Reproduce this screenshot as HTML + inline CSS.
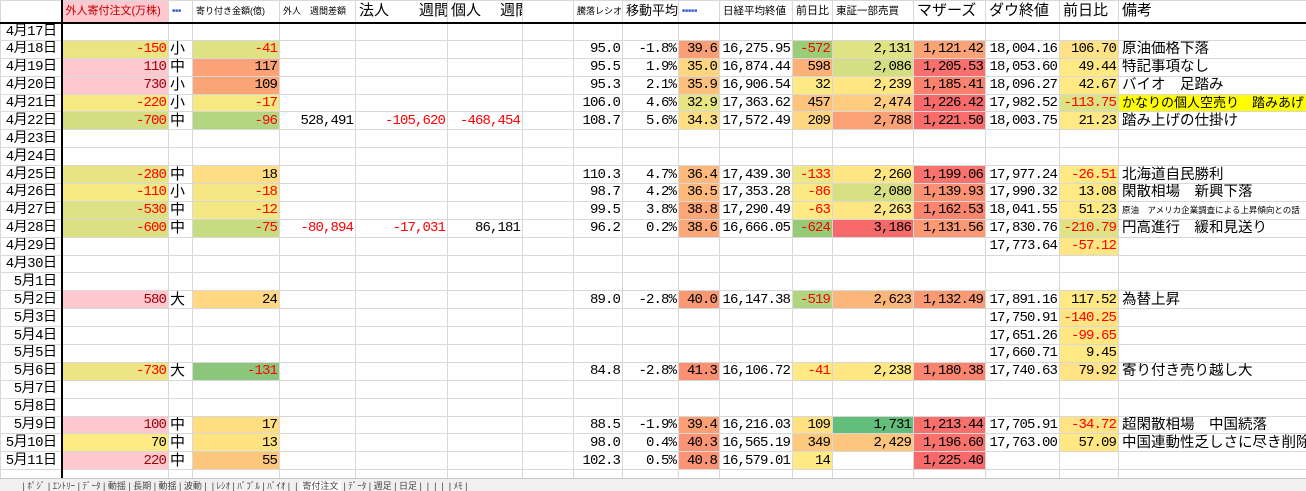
<!DOCTYPE html>
<html><head><meta charset="utf-8">
<style>
html,body{margin:0;padding:0;background:#fff;width:1306px;height:490px;overflow:hidden;}
table{border-collapse:collapse;table-layout:fixed;position:absolute;left:0;top:0;width:1306px;}
td{border:1px solid #d8d8d8;padding:0 2px 0 1px;height:17.9px;white-space:nowrap;overflow:hidden;text-align:right;font-family:"Liberation Mono","Noto Sans CJK JP",monospace;font-size:14px;letter-spacing:-0.9px;line-height:16px;color:#000;box-sizing:border-box;}
tr.h td{height:22px;font-family:"Liberation Sans","Noto Sans CJK JP",sans-serif;text-align:left;border-bottom:2px solid #000;font-size:10px;padding-left:3px;letter-spacing:0;}
td.d{font-family:"Liberation Mono","Noto Sans CJK JP",monospace;font-size:14px;border-right:2px solid #000;text-align:right;padding-right:4px;letter-spacing:-0.5px;}
td.c{text-align:left;font-family:"Liberation Sans","Noto Sans CJK JP",sans-serif;font-size:15px;padding-left:1px;letter-spacing:0;}
td.t{text-align:left;font-family:"Liberation Sans","Noto Sans CJK JP",sans-serif;font-size:14.5px;padding-left:3px;letter-spacing:0;}
.r{color:#ff0000}.dr{color:#9c0006}
.pk{background:#ffc7ce}
#tabs{position:absolute;left:0;top:478px;width:1306px;height:12px;background:#f0f0f0;border-top:1px solid #c8c8c8;font:9px "Liberation Sans","Noto Sans CJK JP",sans-serif;color:#444;white-space:nowrap;overflow:hidden;}
</style></head><body>
<table>
<colgroup>
<col style="width:61px"><col style="width:107px"><col style="width:24px"><col style="width:87px"><col style="width:76px"><col style="width:92px"><col style="width:75px"><col style="width:51px"><col style="width:49px"><col style="width:56px"><col style="width:41px"><col style="width:73px"><col style="width:40px"><col style="width:81px"><col style="width:72px"><col style="width:74px"><col style="width:59px"><col style="width:188px">
</colgroup>
<tr class="h">
<td style="border-right:2px solid #000"></td>
<td style="background:#ffc7ce;color:#c00000;font-size:11px">外人寄付注文(万株)</td>
<td style="color:#3355cc;font-size:5px">■■■</td>
<td style="font-size:9px">寄り付き金額(億)</td>
<td style="font-size:9px">外人　週間差額</td>
<td style="font-size:15px">法人　　週間</td>
<td style="font-size:15px">個人　 週間</td>
<td></td>
<td style="font-size:9px">騰落レシオ</td>
<td style="font-size:13px">移動平均</td>
<td style="font-size:5px;color:#3355cc">■■■■■</td>
<td style="font-size:10.5px">日経平均終値</td>
<td style="font-size:11px">前日比</td>
<td style="font-size:10.5px">東証一部売買</td>
<td style="font-size:15px">マザーズ</td>
<td style="font-size:15px">ダウ終値</td>
<td style="font-size:15px">前日比</td>
<td style="font-size:15px">備考</td>
</tr>
<tr><td class="d">4月17日</td><td></td><td></td><td></td><td></td><td></td><td></td><td></td><td></td><td></td><td></td><td></td><td></td><td></td><td></td><td></td><td></td><td></td></tr>
<tr><td class="d">4月18日</td><td class="r" style="background:#ebe483">-150</td><td class="c">小</td><td class="r" style="background:#dfe283">-41</td><td></td><td></td><td></td><td></td><td>95.0</td><td>-1.8%</td><td style="background:#fa9e75">39.6</td><td>16,275.95</td><td class="r" style="background:#9bcc78">-572</td><td style="background:#e0e383">2,131</td><td style="background:#fba276">1,121.42</td><td>18,004.16</td><td style="background:#ffe287">106.70</td><td class="t">原油価格下落</td></tr>
<tr><td class="d">4月19日</td><td class="dr pk">110</td><td class="c">中</td><td style="background:#fba276">117</td><td></td><td></td><td></td><td></td><td>95.5</td><td>1.9%</td><td style="background:#fed680">35.0</td><td>16,874.44</td><td style="background:#fcb178">598</td><td style="background:#d3df82">2,086</td><td style="background:#f8706d">1,205.53</td><td>18,053.60</td><td style="background:#ffe984">49.44</td><td class="t">特記事項なし</td></tr>
<tr><td class="d">4月20日</td><td class="dr pk">730</td><td class="c">小</td><td style="background:#fba576">109</td><td></td><td></td><td></td><td></td><td>95.3</td><td>2.1%</td><td style="background:#fdc07c">35.9</td><td>16,906.54</td><td style="background:#ffe984">32</td><td style="background:#fee783">2,239</td><td style="background:#f9826f">1,185.41</td><td>18,096.27</td><td style="background:#ffe984">42.67</td><td class="t">バイオ　足踏み</td></tr>
<tr><td class="d">4月21日</td><td class="r" style="background:#f6e984">-220</td><td class="c">小</td><td class="r" style="background:#f6e984">-17</td><td></td><td></td><td></td><td></td><td>106.0</td><td>4.6%</td><td style="background:#e6e483">32.9</td><td>17,363.62</td><td style="background:#fdc37d">457</td><td style="background:#fdcc7e">2,474</td><td style="background:#f8696b">1,226.42</td><td>17,982.52</td><td class="r" style="background:#dde282">-113.75</td><td class="t" style="background:#ffff00;font-size:13px">かなりの個人空売り　踏みあげ</td></tr>
<tr><td class="d">4月22日</td><td class="r" style="background:#d3de82">-700</td><td class="c">中</td><td class="r" style="background:#b5d680">-96</td><td>528,491</td><td class="r">-105,620</td><td class="r">-468,454</td><td></td><td>108.7</td><td>5.6%</td><td style="background:#fede82">34.3</td><td>17,572.49</td><td style="background:#fed680">209</td><td style="background:#fba176">2,788</td><td style="background:#f86d6c">1,221.50</td><td>18,003.75</td><td style="background:#ffe984">21.23</td><td class="t">踏み上げの仕掛け</td></tr>
<tr><td class="d">4月23日</td><td></td><td></td><td></td><td></td><td></td><td></td><td></td><td></td><td></td><td></td><td></td><td></td><td></td><td></td><td></td><td></td><td></td></tr>
<tr><td class="d">4月24日</td><td></td><td></td><td></td><td></td><td></td><td></td><td></td><td></td><td></td><td></td><td></td><td></td><td></td><td></td><td></td><td></td><td></td></tr>
<tr><td class="d">4月25日</td><td class="r" style="background:#e8e483">-280</td><td class="c">中</td><td style="background:#ffdd82">18</td><td></td><td></td><td></td><td></td><td>110.3</td><td>4.7%</td><td style="background:#fdb97b">36.4</td><td>17,439.30</td><td class="r" style="background:#f0e784">-133</td><td style="background:#fee683">2,260</td><td style="background:#f8736d">1,199.06</td><td>17,977.24</td><td class="r" style="background:#ffe984">-26.51</td><td class="t">北海道自民勝利</td></tr>
<tr><td class="d">4月26日</td><td class="r" style="background:#f5e984">-110</td><td class="c">小</td><td class="r" style="background:#f5e784">-18</td><td></td><td></td><td></td><td></td><td>98.7</td><td>4.2%</td><td style="background:#fdb87a">36.5</td><td>17,353.28</td><td class="r" style="background:#fce984">-86</td><td style="background:#d6e082">2,080</td><td style="background:#fa9172">1,139.93</td><td>17,990.32</td><td style="background:#ffe984">13.08</td><td class="t">閑散相場　新興下落</td></tr>
<tr><td class="d">4月27日</td><td class="r" style="background:#dce283">-530</td><td class="c">中</td><td class="r" style="background:#f3e884">-12</td><td></td><td></td><td></td><td></td><td>99.5</td><td>3.8%</td><td style="background:#fca677">38.8</td><td>17,290.49</td><td class="r" style="background:#fee984">-63</td><td style="background:#fee683">2,263</td><td style="background:#f9856f">1,162.53</td><td>18,041.55</td><td style="background:#ffe984">51.23</td><td class="t" style="font-size:8.5px">原油　アメリカ企業調査による上昇傾向との話</td></tr>
<tr><td class="d">4月28日</td><td class="r" style="background:#dbe183">-600</td><td class="c">中</td><td class="r" style="background:#c7dc81">-75</td><td class="r">-80,894</td><td class="r">-17,031</td><td>86,181</td><td></td><td>96.2</td><td>0.2%</td><td style="background:#fca777">38.6</td><td>16,666.05</td><td class="r" style="background:#96ca77">-624</td><td style="background:#f8696b">3,186</td><td style="background:#fa9973">1,131.56</td><td>17,830.76</td><td class="r" style="background:#e0e383">-210.79</td><td class="t">円高進行　緩和見送り</td></tr>
<tr><td class="d">4月29日</td><td></td><td></td><td></td><td></td><td></td><td></td><td></td><td></td><td></td><td></td><td></td><td></td><td></td><td></td><td>17,773.64</td><td class="r" style="background:#fde784">-57.12</td><td></td></tr>
<tr><td class="d">4月30日</td><td></td><td></td><td></td><td></td><td></td><td></td><td></td><td></td><td></td><td></td><td></td><td></td><td></td><td></td><td></td><td></td><td></td></tr>
<tr><td class="d">5月1日</td><td></td><td></td><td></td><td></td><td></td><td></td><td></td><td></td><td></td><td></td><td></td><td></td><td></td><td></td><td></td><td></td><td></td></tr>
<tr><td class="d">5月2日</td><td class="dr pk">580</td><td class="c">大</td><td style="background:#ffd881">24</td><td></td><td></td><td></td><td></td><td>89.0</td><td>-2.8%</td><td style="background:#fb9874">40.0</td><td>16,147.38</td><td class="r" style="background:#b0d580">-519</td><td style="background:#fcb67a">2,623</td><td style="background:#fa9a74">1,132.49</td><td>17,891.16</td><td style="background:#ffe985">117.52</td><td class="t">為替上昇</td></tr>
<tr><td class="d">5月3日</td><td></td><td></td><td></td><td></td><td></td><td></td><td></td><td></td><td></td><td></td><td></td><td></td><td></td><td></td><td>17,750.91</td><td class="r" style="background:#fde584">-140.25</td><td></td></tr>
<tr><td class="d">5月4日</td><td></td><td></td><td></td><td></td><td></td><td></td><td></td><td></td><td></td><td></td><td></td><td></td><td></td><td></td><td>17,651.26</td><td class="r" style="background:#ffe884">-99.65</td><td></td></tr>
<tr><td class="d">5月5日</td><td></td><td></td><td></td><td></td><td></td><td></td><td></td><td></td><td></td><td></td><td></td><td></td><td></td><td></td><td>17,660.71</td><td style="background:#ffe984">9.45</td><td></td></tr>
<tr><td class="d">5月6日</td><td class="r" style="background:#ede584">-730</td><td class="c">大</td><td class="r" style="background:#8cc57c">-131</td><td></td><td></td><td></td><td></td><td>84.8</td><td>-2.8%</td><td style="background:#fa8f72">41.3</td><td>16,106.72</td><td class="r" style="background:#ffe984">-41</td><td style="background:#fee783">2,238</td><td style="background:#f9846f">1,180.38</td><td>17,740.63</td><td style="background:#ffe384">79.92</td><td class="t">寄り付き売り越し大</td></tr>
<tr><td class="d">5月7日</td><td></td><td></td><td></td><td></td><td></td><td></td><td></td><td></td><td></td><td></td><td></td><td></td><td></td><td></td><td></td><td></td><td></td></tr>
<tr><td class="d">5月8日</td><td></td><td></td><td></td><td></td><td></td><td></td><td></td><td></td><td></td><td></td><td></td><td></td><td></td><td></td><td></td><td></td><td></td></tr>
<tr><td class="d">5月9日</td><td class="dr pk">100</td><td class="c">中</td><td style="background:#ffde82">17</td><td></td><td></td><td></td><td></td><td>88.5</td><td>-1.9%</td><td style="background:#fb9f75">39.4</td><td>16,216.03</td><td style="background:#ffe182">109</td><td style="background:#63be7b">1,731</td><td style="background:#f8706d">1,213.44</td><td>17,705.91</td><td class="r" style="background:#ffe384">-34.72</td><td class="t">超閑散相場　中国続落</td></tr>
<tr><td class="d">5月10日</td><td style="background:#ffeb84">70</td><td class="c">中</td><td style="background:#ffe383">13</td><td></td><td></td><td></td><td></td><td>98.0</td><td>0.4%</td><td style="background:#fb9474">40.3</td><td>16,565.19</td><td style="background:#fdca7d">349</td><td style="background:#fdc57d">2,429</td><td style="background:#f8736d">1,196.60</td><td>17,763.00</td><td style="background:#ffe884">57.09</td><td class="t">中国連動性乏しさに尽き削除</td></tr>
<tr><td class="d">5月11日</td><td class="dr pk">220</td><td class="c">中</td><td style="background:#fdc67d">55</td><td></td><td></td><td></td><td></td><td>102.3</td><td>0.5%</td><td style="background:#fb9474">40.8</td><td>16,579.01</td><td style="background:#ffe984">14</td><td></td><td style="background:#f8696b">1,225.40</td><td></td><td></td><td></td></tr>
<tr><td class="d"></td><td></td><td></td><td></td><td></td><td></td><td></td><td></td><td></td><td></td><td></td><td></td><td></td><td></td><td></td><td></td><td></td><td></td></tr>
</table>
<div id="tabs">&nbsp;&nbsp;&nbsp;&nbsp;&nbsp;&nbsp;&nbsp;&nbsp;&nbsp;|&nbsp;ﾎﾟｼﾞ&nbsp;|&nbsp;ｴﾝﾄﾘｰ&nbsp;|&nbsp;ﾃﾞｰﾀ&nbsp;|&nbsp;動揺&nbsp;|&nbsp;長期&nbsp;|&nbsp;動揺&nbsp;|&nbsp;波動&nbsp;|&nbsp;&nbsp;|&nbsp;ﾚｼｵ&nbsp;|&nbsp;ﾊﾞﾌﾞﾙ&nbsp;|&nbsp;ﾊﾞｲｵ&nbsp;|&nbsp;&nbsp;|&nbsp;<span style="background:#fff">&nbsp;寄付注文&nbsp;</span>&nbsp;|&nbsp;ﾃﾞｰﾀ&nbsp;|&nbsp;週足&nbsp;|&nbsp;日足&nbsp;|&nbsp;&nbsp;|&nbsp;&nbsp;|&nbsp;&nbsp;|&nbsp;&nbsp;|&nbsp;ﾒﾓ&nbsp;|</div>
</body></html>
